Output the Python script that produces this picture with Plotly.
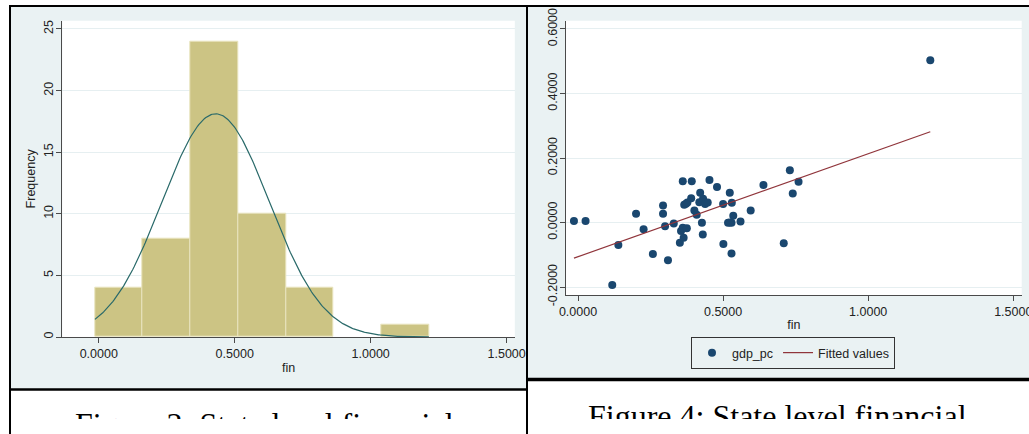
import numpy as np
import plotly.graph_objects as go

W, H = 1029, 434

# ---------------- data ----------------
fin = [-0.014, 0.026, 0.118, 0.139, 0.200, 0.226, 0.258, 0.293, 0.293, 0.300,
       0.310, 0.330, 0.351, 0.355, 0.361, 0.364, 0.375, 0.361, 0.392, 0.366,
       0.372, 0.377, 0.390, 0.401, 0.409, 0.418, 0.421, 0.427, 0.430, 0.431,
       0.438, 0.447, 0.453, 0.479, 0.500, 0.501, 0.523, 0.530, 0.517, 0.529,
       0.535, 0.529, 0.560, 0.595, 0.639, 0.709, 0.730, 0.740, 0.760, 1.214,
       0.523]
gdp_pc = [0.005, 0.005, -0.194, -0.070, 0.027, -0.021, -0.098, 0.053, 0.027, -0.012,
          -0.117, -0.003, -0.063, -0.026, -0.016, -0.047, -0.018, 0.128, 0.128, 0.055,
          0.058, 0.062, 0.075, 0.037, 0.024, 0.063, 0.092, -0.001, -0.037, 0.074,
          0.057, 0.062, 0.132, 0.110, 0.057, -0.067, 0.092, 0.061, -0.001, -0.001,
          0.021, -0.096, 0.003, 0.037, 0.116, -0.064, 0.162, 0.090, 0.126, 0.503,
          0.000]

bin_start = -0.014
bin_width = 0.1755
n_bins = 7

fin_ticks = [0.0, 0.5, 1.0, 1.5]
fin_tick_labels = ["0.0000", "0.5000", "1.0000", "1.5000"]
freq_ticks = [0, 5, 10, 15, 20, 25]
freq_tick_labels = ["0", "5", "10", "15", "20", "25"]
gdp_ticks = [-0.2, 0.0, 0.2, 0.4, 0.6]
gdp_tick_labels = ["-0.2000", "0.0000", "0.2000", "0.4000", "0.6000"]
captions = ["Figure 3: State level financial", "Figure 4: State level financial"]

# ---------------- derived ----------------
fin_arr = np.array(fin)
gdp_arr = np.array(gdp_pc)
mu = fin_arr.mean()
sd = fin_arr.std(ddof=1)
xs = np.linspace(fin_arr.min(), fin_arr.max(), 300)
ys = len(fin) * bin_width * np.exp(-0.5 * ((xs - mu) / sd) ** 2) / (sd * np.sqrt(2 * np.pi))
slope, intercept = np.polyfit(fin_arr, gdp_arr, 1)
fx = np.array([fin_arr.min(), fin_arr.max()])
fy = intercept + slope * fx


def px(x):
    return x / W


def py(y):
    return 1 - y / H


FONT = "Liberation Sans, Arial, sans-serif"
TXT = "#222222"
REGION = "#EAF2F3"
GRID = "#E6EFF1"
AX = "#4a4a4a"

fig = go.Figure()

fig.add_trace(go.Histogram(
    x=fin, xbins=dict(start=bin_start, end=bin_start + n_bins * bin_width, size=bin_width),
    marker=dict(color="#CCC484", line=dict(color="#E9E4BE", width=1)),
    xaxis="x", yaxis="y", showlegend=False, hoverinfo="skip"))
fig.add_trace(go.Scatter(
    x=xs, y=ys, mode="lines", line=dict(color="#2A6A6A", width=1.2),
    xaxis="x", yaxis="y", showlegend=False, hoverinfo="skip"))

fig.add_trace(go.Scatter(
    x=fin, y=gdp_pc, mode="markers", name="gdp_pc",
    marker=dict(color="#1A476F", size=8),
    xaxis="x2", yaxis="y2"))
fig.add_trace(go.Scatter(
    x=fx, y=fy, mode="lines", name="Fitted values",
    line=dict(color="#90353B", width=1.2),
    xaxis="x2", yaxis="y2"))

# captions (clipped by subplot 3, as in the cropped reference)
fig.add_trace(go.Scatter(
    x=[75, 588], y=[434 - 411, 434 - 403], mode="text", text=captions,
    textposition="bottom right", cliponaxis=True,
    textfont=dict(family="Liberation Serif, Times New Roman, serif", size=32, color="#000000"),
    xaxis="x3", yaxis="y3", showlegend=False, hoverinfo="skip"))

axis_common = dict(
    ticks="outside", ticklen=5, tickwidth=1, tickcolor=AX,
    showline=True, linecolor=AX, linewidth=1, zeroline=False, automargin=False,
    tickfont=dict(family=FONT, size=12.5, color=TXT), ticklabeloverflow="allow",
)

shapes = [
    # graph regions
    dict(type="rect", xref="paper", yref="paper", x0=px(10), x1=px(527), y0=py(389), y1=py(5),
         fillcolor=REGION, line=dict(width=0), layer="below"),
    dict(type="rect", xref="paper", yref="paper", x0=px(527), x1=px(1029), y0=py(379), y1=py(5),
         fillcolor=REGION, line=dict(width=0), layer="below"),
    # plot regions (white)
    dict(type="rect", xref="x domain", yref="y domain", x0=0, x1=1, y0=0, y1=1,
         fillcolor="white", line=dict(width=0), layer="below"),
    dict(type="rect", xref="x2 domain", yref="y2 domain", x0=0, x1=1, y0=0, y1=1,
         fillcolor="white", line=dict(width=0), layer="below"),
    # black frame lines
    dict(type="line", xref="paper", yref="paper", x0=px(9), x1=1, y0=py(6), y1=py(6),
         line=dict(color="black", width=2), layer="above"),
    dict(type="line", xref="paper", yref="paper", x0=px(10), x1=px(10), y0=py(5), y1=0,
         line=dict(color="black", width=2), layer="above"),
    dict(type="line", xref="paper", yref="paper", x0=px(527), x1=px(527), y0=py(5), y1=0,
         line=dict(color="black", width=2), layer="above"),
    dict(type="line", xref="paper", yref="paper", x0=px(10), x1=px(527), y0=py(389.5), y1=py(389.5),
         line=dict(color="black", width=2.5), layer="above"),
    dict(type="line", xref="paper", yref="paper", x0=px(527), x1=1, y0=py(379.5), y1=py(379.5),
         line=dict(color="black", width=3.5), layer="above"),
]

fig.update_layout(
    template="none",
    width=W, height=H, margin=dict(l=0, r=0, t=0, b=0, pad=0, autoexpand=False),
    paper_bgcolor="white", plot_bgcolor="white",
    bargap=0, shapes=shapes,
    font=dict(family=FONT, size=12.5, color=TXT),
    xaxis=dict(domain=[px(62.3), px(514.8)], range=[-0.134, 1.530], anchor="y",
               tickvals=fin_ticks, ticktext=fin_tick_labels, showgrid=False,
               title=dict(text="fin", standoff=3, font=dict(family=FONT, size=12.5, color=TXT)),
               **axis_common),
    yaxis=dict(domain=[py(337), py(20.7)], range=[0, 25.67], anchor="x",
               tickvals=freq_ticks, ticktext=freq_tick_labels, tickangle=-90,
               ticklabelstandoff=-2,
               showgrid=True, gridcolor=GRID, gridwidth=1,
               title=dict(text="Frequency", standoff=3, font=dict(family=FONT, size=12.5, color=TXT)),
               **axis_common),
    xaxis2=dict(domain=[px(566), px(1021.7)], range=[-0.0414, 1.529], anchor="y2",
                tickvals=fin_ticks, ticktext=fin_tick_labels, showgrid=False,
                title=dict(text="fin", standoff=2, font=dict(family=FONT, size=12.5, color=TXT)),
                **axis_common),
    yaxis2=dict(domain=[py(295), py(20.7)], range=[-0.2248, 0.6257], anchor="x2",
                tickvals=gdp_ticks, ticktext=gdp_tick_labels, tickangle=-90,
                ticklabelstandoff=-2,
                showgrid=True, gridcolor=GRID, gridwidth=1,
                **axis_common),
    xaxis3=dict(domain=[0, 1], range=[0, W], visible=False, anchor="y3", fixedrange=True,
                automargin=False),
    yaxis3=dict(domain=[py(419), py(384)], range=[434 - 419, 434 - 384], visible=False,
                anchor="x3", fixedrange=True, automargin=False),
    legend=dict(orientation="h", x=px(793), xanchor="center", y=py(337), yanchor="top",
                bgcolor=REGION, bordercolor="#333333", borderwidth=1,
                font=dict(family=FONT, size=12.5, color=TXT), traceorder="normal"),
)

fig.write_html("out.html", config={"displayModeBar": False},
               post_script="document.body.style.margin='0';document.body.style.overflow='hidden';")
